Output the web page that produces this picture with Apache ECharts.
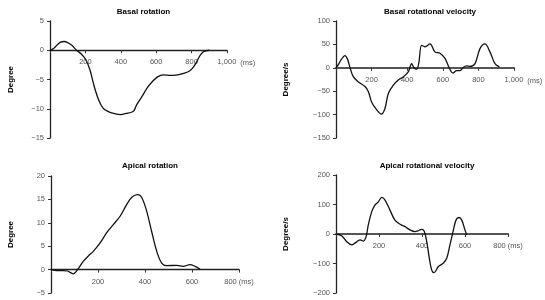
<!DOCTYPE html>
<html><head><meta charset="utf-8">
<script src="https://cdn.jsdelivr.net/npm/echarts@6/dist/echarts.min.js"></script>
<style>html,body{margin:0;padding:0;background:#fff}#c{width:545px;height:300px}</style>
</head><body><div id="c"></div>
<script>
const panelTitles = ['Basal rotation', 'Basal rotational velocity', 'Apical rotation', 'Apical rotational velocity'];
const yAxisNames = ['Degree', 'Degree/s', 'Degree', 'Degree/s'];
const xMax = [1000, 1000, 800, 800];
const yMin = [-15, -150, -5, -200];
const yMax = [5, 100, 20, 200];
const yStep = [5, 50, 5, 100];

const basalRotation = [[0,0],[20,0.3],[40,0.9],[60,1.4],[80,1.5],[100,1.3],[125,0.8],[150,0],[175,-0.6],[200,-1.5],[225,-3.3],[250,-6.2],[275,-8.5],[300,-9.9],[330,-10.5],[360,-10.8],[400,-11.0],[430,-10.8],[460,-10.6],[475,-10.3],[490,-9.3],[520,-7.9],[550,-6.4],[580,-5.3],[610,-4.5],[640,-4.2],[680,-4.3],[720,-4.2],[760,-3.9],[790,-3.5],[810,-2.9],[830,-1.9],[850,-0.8],[870,-0.2],[900,0]];
const basalVelocity = [[0,0],[15,8],[30,18],[50,26],[65,18],[79,0],[97,-19],[125,-30],[163,-40],[182,-51],[200,-73],[229,-90],[255,-99],[275,-87],[294,-55],[322,-37],[350,-26],[379,-19],[407,-8],[425,9],[438,0],[453,-3],[465,10],[481,48],[500,45],[528,51],[556,34],[584,31],[612,20],[637,-1],[656,-11],[678,-6],[697,-6],[716,1],[734,4],[753,3],[781,9],[809,41],[837,51],[865,34],[893,9],[918,2]];
const apicalRotation = [[0,0],[24,-0.2],[52,-0.2],[70,-0.3],[95,-0.9],[116,0.2],[138,1.8],[159,2.9],[180,3.9],[209,5.7],[237,7.9],[265,9.6],[294,11.4],[322,13.9],[345,15.5],[368,16.0],[386,15.4],[407,12.5],[428,8.2],[450,3.9],[471,1.4],[492,0.86],[535,0.9],[563,0.7],[591,1.05],[613,0.7],[634,0.1]];
const apicalVelocity = [[0,0],[26,-6],[50,-26],[73,-37],[88,-31],[112,-20],[127,-24],[140,-9],[150,30],[166,75],[181,98],[197,109],[213,124],[228,115],[251,81],[274,47],[298,33],[321,25],[344,14],[367,8],[383,11],[398,16],[410,10],[422,-26],[434,-82],[445,-122],[456,-131],[476,-110],[499,-99],[515,-82],[530,-37],[546,13],[558,47],[572,56],[585,47],[600,13],[608,-3]];
const seriesData = [basalRotation, basalVelocity, apicalRotation, apicalVelocity];

const grids = [
  {left: 50, top: 21, width: 177, height: 117},
  {left: 336, top: 21, width: 178, height: 117},
  {left: 51, top: 176, width: 188, height: 117},
  {left: 336, top: 175, width: 172, height: 118}
];
const nameGaps = [35, 46, 36, 46];
const font = 'Liberation Sans, Arial, sans-serif';

// pixel offset that lifts each x axis from the grid bottom to its y = 0 line
const zeroOffset = grids.map((g, i) => -g.height * (0 - yMin[i]) / (yMax[i] - yMin[i]));

function xLabel(i) {
  return v => {
    if (v === 0) return '';
    if (v >= 1000) return '1,000';
    if (v === xMax[i]) return v + ' (ms)';
    return String(v);
  };
}

const chart = echarts.init(document.getElementById('c'), null, {renderer: 'canvas'});
const option = {
  animation: false,
  backgroundColor: '#fff',
  title: panelTitles.map((t, i) => ({
    text: t,
    left: grids[i].left + grids[i].width / 2,
    top: i < 2 ? 3 : 157,
    textAlign: 'center',
    textStyle: {fontSize: 8, fontWeight: 'bold', color: '#000', fontFamily: font}
  })),
  grid: grids.map(g => Object.assign({containLabel: false}, g)),
  xAxis: grids.map((g, i) => ({
    type: 'value', gridIndex: i, min: 0, max: xMax[i], interval: 200,
    position: 'bottom', offset: zeroOffset[i],
    name: xMax[i] >= 1000 ? '(ms)' : '', nameLocation: 'end', nameGap: 13,
    nameTextStyle: {fontSize: 7.5, color: '#555', fontFamily: font, verticalAlign: 'top', padding: [9, 0, 0, 0]},
    axisLine: {show: true, onZero: false, lineStyle: {color: i % 2 ? '#555' : '#222', width: i % 2 ? 2 : 1.3}},
    axisTick: {show: true, inside: false, length: 3, lineStyle: {color: '#333'}},
    axisLabel: {fontSize: 7.5, color: '#555', fontFamily: font, margin: 8, formatter: xLabel(i)},
    splitLine: {show: false}
  })),
  yAxis: grids.map((g, i) => ({
    type: 'value', gridIndex: i, min: yMin[i], max: yMax[i], interval: yStep[i],
    name: yAxisNames[i], nameLocation: 'middle', nameGap: nameGaps[i], nameRotate: 90,
    nameTextStyle: {fontSize: 8, fontWeight: 'bold', color: '#000', fontFamily: font},
    axisLine: {show: true, onZero: false, lineStyle: {color: '#222', width: 1.3}},
    axisTick: {show: true, inside: false, length: 3, lineStyle: {color: '#333'}},
    axisLabel: {fontSize: 7.5, color: '#555', fontFamily: font, margin: 6,
      formatter: v => v < 0 ? '\u2212' + (-v) : String(v)},
    splitLine: {show: false}
  })),
  series: seriesData.map((d, i) => ({
    type: 'line', xAxisIndex: i, yAxisIndex: i, data: d,
    smooth: 0.35, showSymbol: false, symbol: 'none',
    lineStyle: {color: '#111', width: 1.3}
  }))
};
chart.setOption(option);
</script>
</body></html>
